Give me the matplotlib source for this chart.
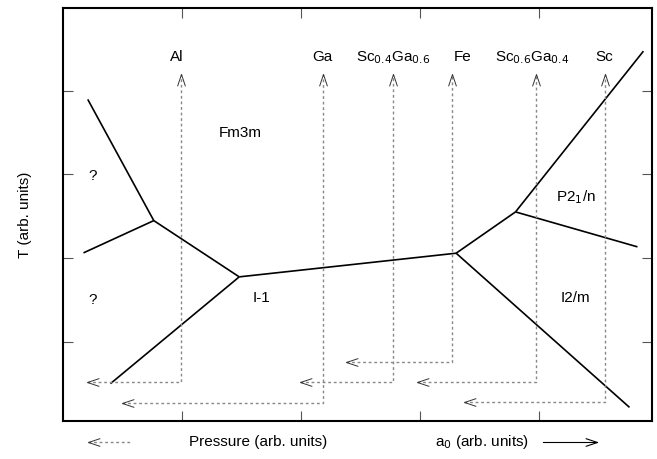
import matplotlib
matplotlib.use("Agg")
import matplotlib.pyplot as plt
from matplotlib.path import Path
from matplotlib.markers import MarkerStyle

plt.rcParams['font.family'] = ['Liberation Sans', 'DejaVu Sans']
plt.rcParams['font.size'] = 11

# Phase-boundary triple points and end points (data units)
points = {
    'A': (0.763, 2.447), 'B': (1.481, 1.774), 'C': (3.304, 2.057), 'D': (3.803, 2.551),
    'E1': (0.208, 3.897), 'E2': (0.172, 2.061), 'E3': (0.399, 0.497),
    'E4': (4.761, 0.213), 'E5': (4.878, 4.474), 'E6': (4.828, 2.133),
}
segments = [('E1', 'A'), ('E2', 'A'), ('A', 'B'), ('B', 'E3'), ('B', 'C'),
            ('C', 'D'), ('C', 'E4'), ('D', 'E5'), ('D', 'E6')]

# Element/compound paths: x position, corner height, horizontal arrow tip
elements = ['Al', 'Ga', r'Sc$_{0.4}$Ga$_{0.6}$', 'Fe', r'Sc$_{0.6}$Ga$_{0.4}$', 'Sc']
elem_x = [0.993, 2.183, 2.775, 3.273, 3.971, 4.559]
corner_y = [0.511, 0.269, 0.511, 0.759, 0.511, 0.281]
tip_x = [0.203, 0.500, 1.990, 2.382, 2.979, 3.374]
top_y = 4.20
label_x = [0.954, 2.18, 2.77, 3.357, 3.945, 4.55]
label_y = 4.40

regions = ['Fm3m', '?', '?', 'I-1', r'P2$_1$/n', 'I2/m']
region_x = [1.492, 0.248, 0.248, 1.668, 4.307, 4.307]
region_y = [3.495, 2.981, 1.499, 1.523, 2.73, 1.523]

fig = plt.figure(figsize=(6.57, 4.59), dpi=100)
ax = fig.add_axes([63/657, 1-421/459, 589/657, 413/459])
ax.set_xlim(0, 4.95)
ax.set_ylim(0.05, 4.99)
ax.set_xticks([1, 2, 3, 4])
ax.set_yticks([1, 2, 3, 4])
ax.tick_params(direction='in', length=7, width=0.8, color='#555555',
               top=True, right=True, labelbottom=False, labelleft=False)
for s in ax.spines.values():
    s.set_linewidth(1.5)

for a, b in segments:
    (x0, y0), (x1, y1) = points[a], points[b]
    ax.plot([x0, x1], [y0, y1], color='black', lw=1.2, solid_capstyle='butt')

left_head = MarkerStyle(Path([(3, 1), (0, 0), (3, -1)], [Path.MOVETO, Path.LINETO, Path.LINETO]))
up_head = MarkerStyle(Path([(-1, -3), (0, 0), (1, -3)], [Path.MOVETO, Path.LINETO, Path.LINETO]))

for x, cy, tx in zip(elem_x, corner_y, tip_x):
    ax.plot([tx, x, x], [cy, cy, top_y], color='#888888', lw=1.0, ls=(0, (2, 2)))
    ax.plot([tx], [cy], marker=left_head, ms=17, mfc='none', mec='#333333', mew=0.7)
    ax.plot([x], [top_y], marker=up_head, ms=17, mfc='none', mec='#333333', mew=0.7)

for t, x in zip(elements, label_x):
    ax.text(x, label_y, t, ha='center', va='center', fontsize=11)

for t, x, y in zip(regions, region_x, region_y):
    ax.text(x, y, t, ha='center', va='center', fontsize=11)

ax.set_ylabel('T (arb. units)', fontsize=11, labelpad=22)

# Bottom annotation
fig.text(258/657, 1-442/459, 'Pressure (arb. units)', ha='center', va='center', fontsize=11)
fig.text(482/657, 1-442/459, r'a$_0$ (arb. units)', ha='center', va='center', fontsize=11)
fig.lines.append(plt.Line2D([88/657, 130/657], [1-442/459]*2, transform=fig.transFigure,
                            color='#888888', lw=1.0, ls=(0, (2, 2))))
fig.lines.append(plt.Line2D([88/657], [1-442/459], transform=fig.transFigure,
                            marker=left_head, ms=17, mfc='none', mec='#333333', mew=0.7))
fig.lines.append(plt.Line2D([543/657, 597/657], [1-442/459]*2, transform=fig.transFigure,
                            color='black', lw=0.8))
right_head = MarkerStyle(Path([(-3, 1), (0, 0), (-3, -1)], [Path.MOVETO, Path.LINETO, Path.LINETO]))
fig.lines.append(plt.Line2D([597/657], [1-442/459], transform=fig.transFigure,
                            marker=right_head, ms=17, mfc='none', mec='black', mew=0.8))

fig.savefig('out.png', dpi=100)
